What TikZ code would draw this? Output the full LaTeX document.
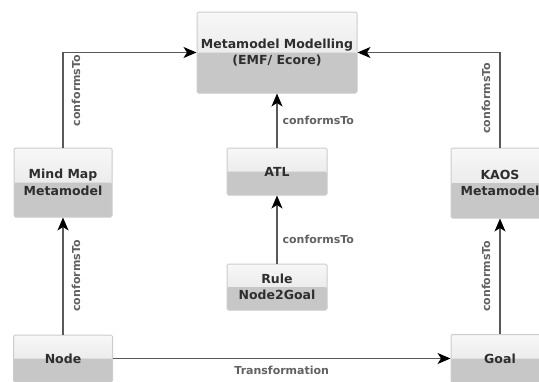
\documentclass[tikz,border=0pt]{standalone}
\usepackage{fontspec}
\setmainfont{DejaVu Sans}
\usetikzlibrary{arrows.meta}

\tikzset{
  mm/.style={draw=black!20, line width=1pt, rounded corners=1.5pt,
    top color=black!3, bottom color=black!12,
    path picture={\fill[black!22] (path picture bounding box.west) rectangle (path picture bounding box.south east);},
    minimum width=98pt, inner sep=0pt, align=center, text=black!82,
    font=\bfseries\fontsize{12.5}{16.5}\selectfont},
  conn/.style={draw=black!65, line width=1.3pt, -{Stealth[length=13pt,width=11pt,inset=3.5pt,color=black]}},
  lbl/.style={text=black!62, font=\bfseries\fontsize{11}{13}\selectfont},
}

\begin{document}
\begin{tikzpicture}[x=1pt, y=-1pt]
  \path[use as bounding box, clip] (0,0) rectangle (539,381);

  % Metamodels
  \node[mm, minimum width=160pt, minimum height=81pt] (meta) at (277,52.5) {Metamodel Modelling\\(EMF/ Ecore)};
  \node[mm, minimum height=69pt] (mindmap) at (63,182.5) {Mind Map\\Metamodel};
  \node[mm, minimum width=100pt, minimum height=47pt] (atl) at (277,171.5) {ATL};
  \node[mm, minimum height=70pt] (kaos) at (500,183) {KAOS\\Metamodel};

  % Models
  \node[mm, minimum width=100pt, minimum height=46pt] (rule) at (277,287) {Rule\\Node2Goal};
  \node[mm, minimum width=99pt, minimum height=47pt] (node) at (63,358.5) {Node};
  \node[mm, minimum height=48pt] (goal) at (500,358.5) {Goal};

  % conformsTo links
  \draw[conn] (mindmap) |- (meta) node[lbl, rotate=90, anchor=north, inner sep=8pt, pos=0.3] {conformsTo};
  \draw[conn] (kaos) |- (meta) node[lbl, rotate=90, anchor=south, inner sep=9pt, pos=0.26] {conformsTo};
  \draw[conn] (atl) -- (meta) node[lbl, right, inner sep=5pt, midway] {conformsTo};
  \draw[conn] (rule) -- (atl) node[lbl, right, inner sep=5pt, pos=0.35] {conformsTo};
  \draw[conn] (node) -- (mindmap) node[lbl, rotate=90, anchor=north, inner sep=8pt, midway] {conformsTo};
  \draw[conn] (goal) -- (kaos) node[lbl, rotate=90, anchor=south, inner sep=9pt, midway] {conformsTo};

  % Transformation
  \draw[conn] (node) -- (goal) node[lbl, below, inner sep=7pt, midway] {Transformation};
\end{tikzpicture}
\end{document}
